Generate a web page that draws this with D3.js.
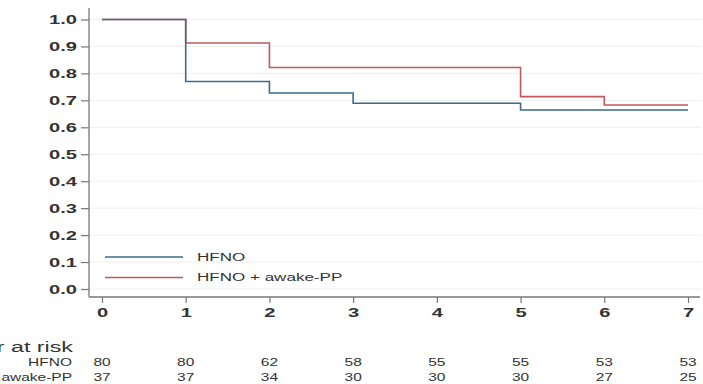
<!DOCTYPE html>
<html>
<head>
<meta charset="utf-8">
<script src="https://cdn.jsdelivr.net/npm/d3@7"></script>
<style>
  body { margin: 0; background: #fff; }
  text { font-family: "Liberation Sans", Arial, sans-serif; fill: #333; }
</style>
</head>
<body>
<div id="chart"></div>
<script>
// data
var timePoints = [0, 1, 2, 3, 4, 5, 6, 7];
var yTicks = [0, 0.1, 0.2, 0.3, 0.4, 0.5, 0.6, 0.7, 0.8, 0.9, 1.0];

var hfnoTimes = [0, 1, 2, 3, 5, 7];
var hfnoSurv = [1.0, 0.77, 0.727, 0.689, 0.664, 0.664];

var ppTimes = [0, 1, 2, 5, 6, 7];
var ppSurv = [1.0, 0.913, 0.822, 0.714, 0.683, 0.683];

var groupNames = ["HFNO", "HFNO + awake-PP"];
var riskLabels = ["HFNO", "HFNO + awake-PP"];
var riskHfno = [80, 80, 62, 58, 55, 55, 53, 53];
var riskPp = [37, 37, 34, 30, 30, 30, 27, 25];

var colors = ["#3d6b8c", "#c4575a"];

// the reference text is stretched sideways
var stretchX = 1.55;

function stretch(sel) {
  sel.each(function() {
    var t = d3.select(this);
    var tx = +t.attr("x") || 0;
    var ty = +t.attr("y") || 0;
    t.attr("x", 0).attr("y", 0)
     .attr("transform", `translate(${tx},${ty}) scale(${stretchX},1)`);
  });
}

var svgWidth = 703, svgHeight = 384;
var svg = d3.select("#chart").append("svg")
    .attr("width", svgWidth)
    .attr("height", svgHeight);

var x = d3.scaleLinear().domain([0, 7]).range([102, 688]);
var y = d3.scaleLinear().domain([0, 1]).range([289, 19.5]);

// grid lines
svg.append("g").selectAll("line")
  .data(yTicks)
  .enter()
  .append("line")
  .attr("x1", 90)
  .attr("x2", 702)
  .attr("y1", d => y(d))
  .attr("y2", d => y(d))
  .attr("stroke", "#efefef")
  .attr("stroke-width", 1);

// y axis
var leftAxis = d3.axisLeft(y).tickValues(yTicks).tickFormat(d3.format(".1f")).tickSize(8).tickPadding(4);
var yAxis = svg.append("g")
    .attr("transform", "translate(89,0)")
    .call(leftAxis);
yAxis.select(".domain").attr("d", "M0,8V297").attr("stroke", "#777").attr("stroke-width", 1.3);
yAxis.selectAll(".tick line").attr("stroke", "#777").attr("stroke-width", 1.2);
yAxis.selectAll("text").style("font-size", "13px").style("font-weight", "bold").attr("fill", "#333").call(stretch);

// x axis
var bottomAxis = d3.axisBottom(x).tickValues(timePoints).tickFormat(d3.format("d")).tickSize(6).tickPadding(5);
var xAxis = svg.append("g")
    .attr("transform", "translate(0,297)")
    .call(bottomAxis);
xAxis.select(".domain").attr("d", "M89,0H700").attr("stroke", "#777").attr("stroke-width", 1.3);
xAxis.selectAll(".tick line").attr("stroke", "#777").attr("stroke-width", 1.2);
xAxis.selectAll("text").style("font-size", "13px").style("font-weight", "bold").attr("fill", "#333").call(stretch);

// step curves
var line = d3.line()
    .x(d => x(d[0]))
    .y(d => y(d[1]))
    .curve(d3.curveStepAfter);

var curves = [
  d3.zip(hfnoTimes, hfnoSurv),
  d3.zip(ppTimes, ppSurv)
];

// draw red first so blue drop overlays at t=1
[1, 0].forEach(function(i) {
  svg.append("path")
    .datum(curves[i])
    .attr("d", line)
    .attr("fill", "none")
    .attr("stroke", colors[i])
    .attr("stroke-width", 1.6);
});

// legend
var legend = svg.append("g");
groupNames.forEach(function(name, i) {
  var ly = 257 + i * 20.5;
  legend.append("line")
    .attr("x1", 105).attr("x2", 183)
    .attr("y1", ly).attr("y2", ly)
    .attr("stroke", colors[i])
    .attr("stroke-width", 1.5);
  legend.append("text")
    .attr("x", 197)
    .attr("y", ly)
    .attr("dy", "0.35em")
    .style("font-size", "11px")
    .text(name)
    .call(stretch);
});

// number at risk table
svg.append("text")
  .attr("x", 73)
  .attr("y", 347)
  .attr("dy", "0.35em")
  .attr("text-anchor", "end")
  .style("font-size", "15px")
  .text("Number at risk")
  .call(stretch);

var riskRows = [riskHfno, riskPp];
riskRows.forEach(function(row, r) {
  var ry = 362 + r * 15;
  svg.append("text")
    .attr("x", 72)
    .attr("y", ry)
    .attr("dy", "0.35em")
    .attr("text-anchor", "end")
    .style("font-size", "10px")
    .text(riskLabels[r])
    .call(stretch);
  svg.append("g").selectAll("text")
    .data(row)
    .enter()
    .append("text")
    .attr("x", (d, i) => x(timePoints[i]))
    .attr("y", ry)
    .attr("dy", "0.35em")
    .attr("text-anchor", "middle")
    .style("font-size", "10px")
    .text(d => d)
    .call(stretch);
});
</script>
</body>
</html>
